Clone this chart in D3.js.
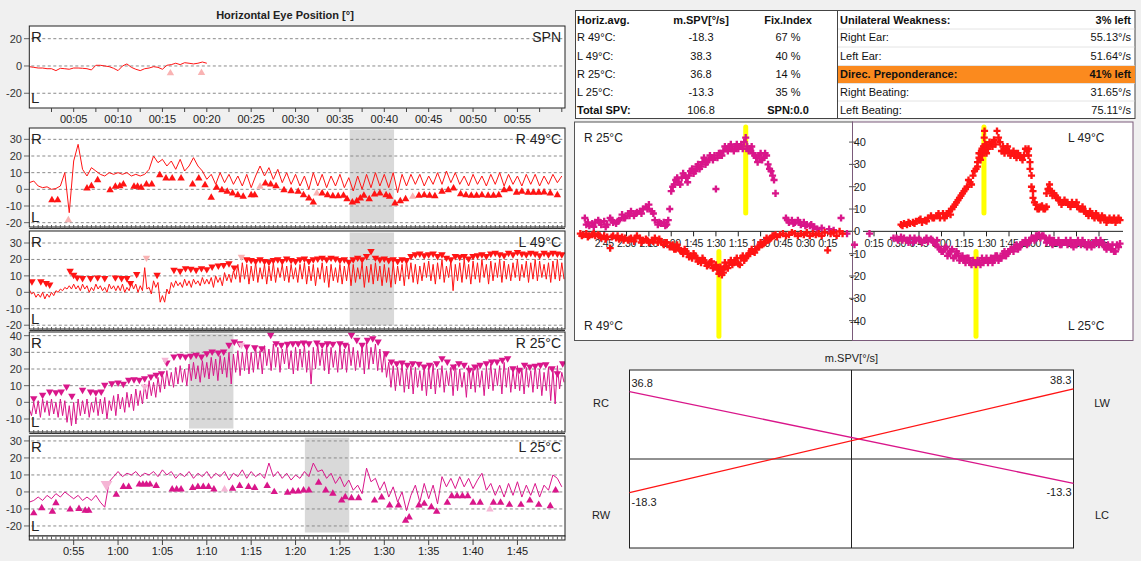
<!DOCTYPE html>
<html><head><meta charset="utf-8">
<script src="https://cdn.jsdelivr.net/npm/d3@7"></script>
<style>
body{margin:0;background:#f0f0f0;}
svg{display:block;font-family:"Liberation Sans",Arial,sans-serif;}
</style></head><body>
<svg id="c" width="1141" height="561"></svg>
<script>
// ---------------- DATA ----------------
// SPN trace (t = 0 .. 20 s, every 0.5 s)
const spnStart = 0, spnStep = 0.5;
const spnTrace = [-0.5,-1,-1.5,-1.5,-2,-2,-3.4,-1.7,-2,-2.4,-1.5,-1.5,-1.7,-2,-2.9,0.5,0.5,0,-0.5,-1.7,-3.4,0,1.5,-1,-2.4,-3.4,-2,-1.5,-0.5,-1,-2.4,0.5,1,2,1,2.4,2,1.5,2,2.9,2];
const spnPale = [[15.9,-5.3],[19.4,-5]];

// R 49°C trace (t = 50 .. 110 s, every 0.5 s)
const r49Start = 50, r49Step = 0.5;
const r49Trace = [4,5,2,1,1.5,0,0.5,2,10,-14,
 17,27,12,8,13,11,9,8,10,9,
 10,9,10,8,9,8,9,12,20,16,
 18,14,17,12,18,11,14,19,14,11,
 6,9,3,10,4,9,3,8,2,9,
 1,8,14,8,13,6,12,4,10,3,
 9,2,8,0,10,2,9,1,8,2,
 9,1,7,-1,8,0,9,1,10,2,
 9,1,10,-2,9,2,9,3,9,2,
 8,3,10,3,11,4,10,3,8,2,
 9,3,8,2,9,3,10,2,9,3,
 8,2,9,3,9,2,8,3,9,4,
 8];
const r49Tri = [[52.55,-6.4],[53.2,-6.4],[56.5,0.6],[57,2],[57.7,5.6],[59.1,-0.4],[59.7,1.6],[60.2,2],[60.6,3],[61.8,1.6],[62.2,1.6],[62.6,1],[63.2,3],[63.8,3],[64.7,8.6],[65.4,6.6],[66.1,6.6],[67.1,6.6],[68.4,3],[69.1,6.6],[69.8,2.6],[70.5,-5],[71.1,1],[71.7,-0.4],[72.3,-1.4],[72.9,-2.4],[73.5,-3.4],[74.1,-4.4],[75,-3.4],[75.4,-3.4],[76.6,3.6],[77.2,3],[77.8,2],[78.7,-0.4],[79.5,-1],[80.3,-1.4],[80.9,-3.4],[81.5,-5.4],[82,-7.8],[83,-2.4],[83.6,-3.4],[84.2,-4],[84.8,-4],[85.4,-3.8],[85.8,-5.8],[86.4,-7.8],[86.9,-7],[87.3,-5.4],[87.7,-3.8],[88.3,-5.8],[88.9,-3],[89.5,-2.4],[90.2,-3.4],[90.6,-4.4],[91.2,-8.4],[91.8,-7],[92.4,-5.8],[93.9,-3.8],[94.5,-3.4],[95.1,-3.8],[95.7,-4],[96.5,-1.4],[97.2,-0.4],[97.8,0.6],[98.6,-2.8],[99.2,-3.4],[99.8,-3.8],[100.4,-3.8],[101,-3.4],[101.7,-3.8],[102.3,-3.8],[102.9,-3.4],[103.5,-0.4],[104.1,0.2],[104.9,-2],[105.5,-1.4],[106.2,-2],[106.8,-2],[107.4,-2],[108,-1.8],[108.7,-2.4],[109.5,-3.4]];
const r49Pale = [[54.4,-18.4],[76,1.6],[82.4,-2.4],[93.2,-4.4]];
const r49Shade = [86.1, 91.1];

// L 49°C trace: peaks and troughs (t = 50 .. 110 s, every 0.5 s)
const l49Start = 50, l49Step = 0.5;
const l49Peaks = [1.6,0,-1,0,-1,0,1,2,3,4,
 5,4,5,4,3,5,4,3,5,4,
 4,5,3,6,5,4,15,3,7,6,
 -2,2,6,7,6,8,7,8,7,9,
 8,9,10,9,12,11,13,17,18,17,
 16,18,15,17,16,18,15,17,16,17,
 15,17,18,16,17,15,18,16,17,15,
 17,16,18,17,15,18,16,17,18,16,
 17,15,18,16,17,19,18,17,16,18,
 19,17,18,20,16,19,17,18,20,17,
 19,18,20,17,19,18,20,19,17,18,
 20,17,19,18,20,19,17,18,19,20,
 18];
const l49Troughs = [-1,-3,-3,-4,-3,-2,0,1,2,2,
 2,1,2,0,1,2,1,0,2,1,
 1,0,1,2,0,1,2,-1,3,-6,
 -6,-1,3,4,3,4,3,5,4,5,
 5,3,6,4,7,6,8,6,8,5,
 7,6,8,5,7,6,9,7,6,8,
 6,8,5,7,4,8,6,3,7,6,
 5,7,4,6,8,3,6,5,7,4,
 6,3,5,7,4,8,6,5,7,9,
 7,5,8,6,9,1,7,6,8,5,
 8,6,9,5,7,9,6,8,7,9,
 7,9,6,8,7,9,8,6,8,7,
 8];
const l49Tri = [[50.3,6.6],[51.3,6.6],[51.9,5.6],[52.3,4.6],[54.6,13],[55,10.6],[55.4,9],[56,8.6],[56.9,8.6],[57.7,9],[58.5,8.6],[59.7,9],[60.4,8.6],[61,8.6],[61.4,5.6],[62.1,11],[64.4,10.6],[66.3,13.6],[67,13],[67.6,14.6],[68.2,14.2],[68.8,13.6],[69.4,14.6],[70,14],[70.6,15.6],[71.3,16.2],[71.9,16.6],[72.5,17.6],[73.1,15],
 [74.5,20],[75,19.5],[75.5,19],[76,20],[76.5,19],[77,18.5],[77.5,19.5],[78,20],[78.5,19],[79,20.5],[79.5,19.5],[80,19],[80.5,20],[81,20.5],[81.5,19],[82,20],[82.5,20.5],[83,21],[83.5,20],[84,21],[84.5,20.5],[85,19.5],[85.5,20],[86,18.5],[86.5,20],[87,21],[87.5,20],[88,22],[88.5,25],[89,21],[89.5,20],[90,20.5],[90.5,19.5],[91,20],[91.5,19],[92,20],[92.5,19.5],[93,22],[93.5,23],[94,23.5],[94.5,22.5],[95,23],[95.5,23.5],[96,22],[96.5,23],[97,21],[97.5,20],[98,22],[98.5,21.5],[99,22],[99.5,20.5],[100,22],[100.5,22.5],[101,23],[101.5,22],[102,23.5],[102.5,24],[103,23],[103.5,22.5],[104,24],[104.5,23],[105,24.5],[105.5,23.5],[106,23],[106.5,24],[107,23.5],[107.5,22.5],[108,24],[108.5,23],[109,24],[109.5,23.5],[110,23]];
const l49Pale = [[63.2,21],[73.9,21.6]];
const l49Shade = [86.1, 91.1];

// R 25°C trace: peaks and troughs (t = 50 .. 110 s, every 0.5 s)
const r25Start = 50, r25Step = 0.5;
const r25Peaks = [-4,0,1,2,1,2,0,2,1,-2,
 0,2,1,2,0,3,2,3,1,4,
 5,3,6,5,8,7,11,13,12,15,
 17,19,18,21,22,20,23,24,22,25,
 24,27,26,28,27,30,29,31,30,32,
 30,33,31,34,32,35,33,32,34,31,
 33,32,34,31,33,35,32,34,33,31,
 34,32,35,33,31,34,36,33,35,32,
 30,24,22,21,23,20,22,21,19,22,
 21,23,20,22,19,21,23,20,18,22,
 20,22,19,21,23,20,22,24,21,19,
 22,20,21,19,22,20,18,21,20,22,
 18];
const r25Troughs = [-8,-7,-9,-6,-8,-7,-9,-8,-12,-14,
 -13,-8,-7,-9,-6,-8,-7,-10,-5,-8,
 -4,-6,-3,-5,-2,-1,2,4,3,6,
 8,10,9,11,12,10,13,14,12,15,
 14,16,13,17,15,11,18,16,19,17,
 18,20,17,22,19,21,18,23,20,17,
 19,21,18,11,20,22,19,17,21,18,
 20,18,22,19,21,17,20,23,19,18,
 15,9,7,10,6,8,5,9,7,4,
 8,5,9,6,10,4,7,9,3,8,
 6,9,4,8,7,10,5,9,6,8,
 7,5,9,6,8,4,7,1,-1,8,
 12];
const r25Tri = [[50.5,2.4],[51.5,4.4],[52.3,6.4],[53,6],[53.6,6.4],[54.2,9.4],[54.8,3.8],[56,7.4],[56.9,6.4],[57.5,6],[58.1,6.4],[58.5,10.4],[59.3,11.4],[60,11.8],[60.6,11],[61.2,13.4],[61.8,13.8],[62.4,13.4],[63,14.4],[63.7,15.4],[64.3,16.4],[64.9,17.4],[65.5,23.8],[66.3,27.4],[67,27.8],[67.6,27.4],[68.2,27.8],[68.8,28.4],[69.4,27.4],[70,29.4],[70.6,30.4],[71.3,29.8],[71.9,30.4],[72.5,34.4],[73.1,36.4],[73.7,35.4],[74.5,33.4],[75.4,33],[76.2,32.4],[77.2,40.4],[77.8,35.4],[78.4,34.4],[79.1,35],[79.7,35.4],[80.3,35.4],[80.9,35.8],[81.5,35.4],[82.4,35.8],[83,34.4],[83.6,35.4],[84.2,35],[85,35.4],[85.6,34.4],[86.3,40.4],[86.9,37.4],[87.5,34.4],[88.1,37.4],[88.7,38.4],[89.3,36.4],[90.2,29.4],[90.8,24.4],[91.4,23.4],[92,23.8],[92.6,22.4],[93.2,23.4],[93.9,23],[94.5,21.4],[95.1,22.4],[95.9,23.4],[96.5,26.4],[97.1,24.4],[97.8,21.4],[98.4,23.4],[99,22.4],[99.6,19.4],[100.2,21.4],[100.8,22.4],[101.5,23.4],[102.1,24.4],[102.7,24.4],[103.3,25.4],[103.9,26.4],[104.5,20.4],[105.2,19.4],[105.8,22.4],[106.4,21.4],[107,21.8],[107.6,22.4],[108.2,22.8],[108.9,20.4],[109.5,17.4],[110.1,23.4]];
const r25Pale = [[65.3,25.4],[73.9,34.4],[63,9.4]];
const r25Shade = [68.0, 73.0];

// L 25°C trace (t = 50 .. 110 s, every 0.5 s)
const l25Start = 50, l25Step = 0.5;
const l25Trace = [-6,-5,-3,-5,-2,-4,-1,-3,0,-2,
 -4,-2,-5,-3,-5,-2,-6,-9,6,9,
 12,9,11,10,12,9,11,10,12,9,
 13,10,12,8,11,9,12,8,11,9,
 12,8,11,9,12,7,11,9,13,8,
 12,9,11,8,17,9,12,8,11,7,
 10,8,12,9,17,12,13,8,11,5,
 9,3,7,1,4,-1,14,6,8,1,
 6,-3,3,-6,0,-11,-2,4,-6,5,
 -4,4,-7,9,3,8,2,9,3,8,
 2,7,11,1,5,-2,4,-3,5,-2,
 6,-3,4,-2,5,-3,4,1,10,8,
 3];
const l25Tri = [[50.5,-12.5],[51.4,-9.5],[52.6,-11.5],[53,-6.5],[54.6,-10.3],[55.6,-9.9],[56.3,-10.9],[56.7,-10.9],[59.8,-1.6],[60.6,3],[61.2,3],[62.4,4.4],[62.8,4.4],[63.2,4.4],[63.6,4.4],[64.3,3.6],[66.1,1.6],[66.6,1.6],[67.1,1.6],[68.4,2.4],[69,3],[69.6,3],[70.2,3],[70.8,1.6],[72.9,2],[73.7,3.6],[74.7,3],[75.4,2.4],[76.8,3.6],[77.6,0],[79.1,-0.4],[79.7,0.4],[80.3,0.4],[80.9,1],[81.5,1],[82.6,5.5],[83.4,1],[84.2,-1],[85.2,-5],[85.6,-3],[86.3,-3.6],[87.1,-3.6],[88.9,-5],[89.7,-3.2],[90.6,-7.9],[91.6,-7.9],[92.4,-16.8],[92.8,-14.9],[93.9,-7.9],[94.5,-6.9],[95.3,-8.9],[95.9,-11.5],[97.1,-6.3],[97.6,-2.4],[98.2,-2.4],[98.8,-2.4],[99.4,-2.4],[100,-6.3],[100.8,-6.3],[102.3,-6.3],[103.1,-6.3],[104.1,-7.5],[105.4,-7.5],[106.4,-5],[107.4,-7.5],[108.7,-8.3],[109.3,1]];
const l25Pale = [[72,1.6],[101.9,-10.3]];
const l25PaleDown = [[58.7,4.5]];
const l25Shade = [81.05, 86.05];

// Scatter plots: slow-phase velocity [t (s), v (°/s)]
const scR25 = [[178,6],[177,3],[175,2.5],[173,3.5],[171,4],[169,5],[167,3],[165,4.5],[163,3],[161,6],[159,4],[157,3.5],[155,5],[153,7.5],[151,6],[149,8],[147,9],[145,7],[143,8.5],[141,9],[139,10],[137,11],[135,12],[133,9],[131,5],[129,3],[127,3.5],[125,4],[123,3],[121,10],[120,18],[119,20],[117,23],[115,22],[113,24],[111,25],[109,22],[107,27],[105,26],[103,29],[101,28],[99,31],[97,30],[95,32],[93,33],[91,34],[90,19],[89,33],[87,35],[85,36],[83,37],[81,38],[79,37],[77,38],[75,37],[73,39],[71,40],[70,42],[69,38],[67,37],[65,35],[63,33],[61,34],[59,32],[57,35],[55,30],[53,27],[51,23],[50,17],[43,6],[41,4],[39,5],[37,4],[35,5],[33,3],[31,4],[29,3],[27,2.5],[25,2],[22,1],[19,1.5],[14,1],[11,0.5],[6,6],[2,-1],
 [176,4],[172,2],[168,4],[164,2],[160,5],[156,4.5],[152,6],[148,7],[144,8],[140,8],[136,10],[132,8],[128,4],[124,2.5],[122,5],[118,21],[116,24],[114,21],[112,26],[110,24],[108,25],[106,28],[104,27],[102,30],[100,29],[98,33],[96,31],[94,34],[92,32],[88,35],[86,34],[84,38],[82,36],[80,39],[78,36],[76,39],[74,38],[72,37],[68,36],[66,38],[64,34],[62,31],[60,35],[58,33],[56,34],[54,28],[52,25],[42,5],[38,3.5],[34,4],[30,2.5],[26,3],[24,2]];
const scR49 = [[181,-1],[179,-1.5],[177,-1],[175,-2],[173,-1.5],[171,-2],[169,-1.5],[167,-3],[165,-2],[163,-2.5],[161,-7.5],[159,-2],[157,-3],[155,-3.5],[153,-2.5],[151,-3],[149,-4],[147,-3],[145,-4.5],[143,-2],[141,-3],[139,-4],[137,-3.5],[135,-5],[133,-4],[131,-3],[129,-5],[127,-4.5],[125,-6],[123,-5],[121,-7],[119,-6],[117,-8],[115,-7.5],[113,-9],[111,-8],[109,-10],[107,-11],[105,-10],[103,-12],[101,-13],[99,-12],[97,-14],[95,-15],[93,-13.5],[91,-16],[89,-17],[88,-19],[87,-18],[86,-19.5],[85,-17],[84,-16],[83,-15.5],[81,-14],[79,-15],[77,-13],[75,-14.5],[73,-12],[71,-13],[69,-11],[67,-10],[65,-9],[63,-8],[61,-7],[59,-6],[57,-5],[55,-4],[53,-3],[51,-2],[49,-2.5],[47,-1.5],[45,-1],[43,-2],[41,-1.5],[39,-0.5],[37,-1],[35,-2],[33,-1],[31,-1.5],[29,-0.5],[27,-2],[25,-1],[23,-1.5],[21,-1],[19,-2],[17,-0.5],[15,-8.5],[13,-1],[11,-0.5],[9,-2],[7,0],[5,-1],
 [180,-2],[176,-2.5],[172,-1],[168,-2],[164,-3.5],[160,-2.5],[156,-2],[152,-4],[148,-3.5],[144,-3],[140,-5],[136,-4],[132,-4.5],[128,-3.5],[124,-5],[120,-6.5],[118,-8],[116,-6],[114,-8.5],[112,-10],[110,-9],[108,-11.5],[106,-12],[104,-11],[102,-13.5],[100,-14],[98,-13],[96,-15.5],[94,-14],[92,-16.5],[90,-15],[88,-17],[87,-16],[86,-17],[85,-18.5],[84,-14],[82,-16.5],[80,-13],[78,-14],[76,-12],[74,-15],[72,-11],[70,-12],[68,-10],[66,-8],[64,-9.5],[62,-7],[60,-5],[58,-5.5],[56,-3],[54,-3.5],[52,-2],[50,-1.5]];
const scL49 = [[33,3],[35,3.5],[37,3],[39,3.5],[41,4],[43,4.5],[45,5],[47,4],[49,5],[51,6],[53,7],[55,6],[57,7],[59,6],[61,8],[63,7],[65,9],[67,10],[69,12],[71,14],[73,16],[75,18],[77,20],[79,22],[81,25],[83,28],[84,31],[85,33],[86,35],[87,37],[88,38],[88.5,42],[88.7,45],[89,36],[90,38],[91,37],[93,39],[95,41],[97,45],[99,40],[101,38],[103,37],[105,36],[107,35],[109,34],[111,35],[113,33],[115,34],[117,36],[118,37],[119,31],[120,25],[121,18],[122,13],[124,10],[126,11],[128,10],[130,11],[131,19],[132,21],[133,18],[135,17],[137,15],[139,14],[141,13],[143,13],[145,12],[147,13],[149,12],[151,11],[153,10],[155,9],[157,8],[159,9],[161,7],[163,8],[165,6],[167,7],[169,6],[171,5],[173,5],[175,6],[177,5],[179,5],
 [34,2.5],[38,4],[42,3.5],[46,5.5],[50,4.5],[54,6],[58,8],[62,6],[64,8],[66,7.5],[68,11],[70,13],[72,15],[74,17],[76,19],[78,23],[80,21],[82,27],[84,29],[85,35],[86,32],[87,34],[88,36],[89,39],[90,35],[92,40],[94,38],[96,39],[98,42],[100,36],[102,35],[104,38],[106,34],[108,36],[110,33],[112,34],[114,32],[116,37],[118,34],[119,28],[120,20],[121,15],[123,12],[125,10],[127,11.5],[129,10],[130,17],[132,19],[134,16],[136,16],[138,14],[140,12],[142,14],[144,13],[146,11],[148,12],[150,13],[152,10],[154,11],[156,9],[158,7],[160,8],[162,6],[164,7],[166,5],[168,6],[170,4],[172,6],[174,5],[176,4],[178,6]];
const scL25 = [[2,-6],[12,-1],[28,-3],[31,-4],[33,-2.5],[35,-3],[37,-4],[39,-3],[41,-5],[43,-4],[45,-3.5],[47,-5],[49,-4],[51,-4.5],[53,-3.5],[55,-5],[57,-4],[59,-8],[61,-9],[63,-7],[65,-10],[67,-8],[69,-11],[71,-10],[73,-12],[75,-13],[77,-12],[79,-14],[81,-13],[83,-15],[85,-14],[87,-12],[89,-13],[91,-14],[93,-12],[95,-13],[97,-11],[99,-12],[101,-10],[103,-11],[105,-9],[107,-8],[109,-7],[111,-8],[113,-6],[115,-5],[117,-6],[119,-4],[121,-3],[123,-2],[125,-1.5],[127,-2],[129,-3],[131,-4],[133,-5],[135,-4],[137,-5],[139,-6],[141,-5],[143,-4],[145,-5],[147,-6],[149,-5],[151,-4],[153,-6],[155,-5],[157,-7],[159,-6],[161,-5],[163,-4],[165,-6],[167,-5],[169,-7],[171,-6],[173,-8],[175,-9],[177,-6],[179,-5.5],
 [30,-3],[34,-4],[38,-5],[42,-3],[46,-4],[50,-3],[54,-4],[56,-6],[58,-7],[60,-9],[62,-8],[64,-11],[66,-9],[68,-12],[70,-9],[72,-13],[74,-11],[76,-14],[78,-12],[80,-15],[82,-14],[84,-13],[86,-15],[88,-14],[90,-12],[92,-13],[94,-14],[96,-11],[98,-13],[100,-12],[102,-9],[104,-10],[106,-8],[108,-9],[110,-6],[112,-7],[114,-5],[116,-4],[118,-5],[120,-3],[122,-4],[124,-2],[126,-3],[128,-2],[130,-5],[132,-3],[134,-6],[136,-5],[138,-4],[140,-6],[142,-5],[144,-6],[146,-4],[148,-7],[150,-6],[152,-5],[154,-4],[156,-6],[158,-5],[160,-7],[162,-6],[164,-5],[166,-4],[168,-6],[170,-8],[172,-7],[174,-6],[176,-9],[178,-7]];
const culmination = {R25:70, R49:88, L49:88.3, L25:83};
const scatterTicks = [15,30,45,60,75,90,105,120,135,150,165];
const scatterYTicks = [40,30,20,10,0,-10,-20,-30,-40];

// Table
const tableHead = ["Horiz.avg.","m.SPV[°/s]","Fix.Index"];
const tableNames = ["R 49°C:","L 49°C:","R 25°C:","L 25°C:"];
const tableSpv = [-18.3, 38.3, 36.8, -13.3];
const tableFix = [67, 40, 14, 35];
const totalSpv = 106.8;
const spnValue = 0.0;
const resultLabels = ["Unilateral Weakness:","Right Ear:","Left Ear:","Direc. Preponderance:","Right Beating:","Left Beating:"];
const resultValues = ["3% left","55.13°/s","51.64°/s","41% left","31.65°/s","75.11°/s"];

// Butterfly chart
const bfLeft = {RC:36.8, RW:-18.3};
const bfRight = {LW:38.3, LC:-13.3};

// ---------------- DRAW ----------------
const svg = d3.select("#c");
const RED = "#ff1414", MAG = "#d9168a", PALE_RED = "#f9b3b3", PALE_MAG = "#f5b5d5";
const X0 = 29.3, X1 = 565;
const xMain = d3.scaleLinear().domain([50, 110.36]).range([X0, X1]);
const xSpn = d3.scaleLinear().domain([0, 60.36]).range([X0, X1]);
const pad = n => (n < 10 ? "0" : "") + n;

svg.append("text").attr("x", 285).attr("y", 19).attr("text-anchor","middle")
  .attr("font-size", 11).attr("font-weight","bold").attr("fill","#222").text("Horizontal Eye Position [°]");

const tri = d3.symbol().type(d3.symbolTriangle).size(24);

function seriesFromPairs(start, step, peaks, troughs){
  const pts = [];
  peaks.forEach((p,i)=>{ pts.push([start + i*step, p]); pts.push([start + i*step + step/2, troughs[i]]); });
  return pts;
}
function seriesFromValues(start, step, vals){ return vals.map((v,i)=>[start + i*step, v]); }

function panel(cfg){
  const {id, y0, y1, dom, ticks, name, x, pts, color, up, down, pale, paleDown, paleColor, shade} = cfg;
  const y = d3.scaleLinear().domain(dom).range([y1, y0]);
  const g = svg.append("g");
  g.append("clipPath").attr("id","clip"+id).append("rect").attr("x",X0).attr("y",y0).attr("width",X1-X0).attr("height",y1-y0);
  g.append("rect").attr("x",X0).attr("y",y0).attr("width",X1-X0).attr("height",y1-y0).attr("fill","#fff");
  if (shade) g.append("rect").attr("x",x(shade[0])).attr("y",y0+1.5).attr("width",x(shade[1])-x(shade[0])).attr("height",y1-y0-5).attr("fill","#d9d9d9");
  ticks.forEach(t=>{
    g.append("line").attr("x1",X0+2).attr("x2",X1-2).attr("y1",y(t)).attr("y2",y(t))
      .attr("stroke","#8a8a8a").attr("stroke-dasharray","3,2.5").attr("stroke-width",1);
    g.append("line").attr("x1",24).attr("x2",X0).attr("y1",y(t)).attr("y2",y(t)).attr("stroke","#666");
    g.append("text").attr("x",22).attr("y",y(t)+4).attr("text-anchor","end").attr("font-size",11).attr("fill","#333").text(t);
  });
  const cg = g.append("g").attr("clip-path","url(#clip"+id+")");
  cg.append("path").datum(pts).attr("fill","none").attr("stroke",color).attr("stroke-width",1)
    .attr("d", d3.line().x(d=>x(d[0])).y(d=>y(d[1])));
  const drawTri = (arr, col, dir, size) => cg.selectAll(null).data(arr).enter().append("path")
      .attr("d", d3.symbol().type(d3.symbolTriangle).size(size||24))
      .attr("transform", d=>`translate(${x(d[0])},${y(d[1])})` + (dir<0?" rotate(180)":""))
      .attr("fill", col);
  if (pale) drawTri(pale, paleColor, 1);
  if (paleDown) drawTri(paleDown, paleColor, -1, 60);
  if (up) drawTri(up, color, 1);
  if (down) drawTri(down, color, -1);
  g.append("rect").attr("x",X0).attr("y",y0).attr("width",X1-X0).attr("height",y1-y0).attr("fill","none").attr("stroke","#222");
  g.append("text").attr("x",31).attr("y",y0+16).attr("font-size",15).attr("fill","#222").text("R");
  g.append("text").attr("x",31).attr("y",y1-5).attr("font-size",15).attr("fill","#222").text("L");
  g.append("text").attr("x",561).attr("y",y0+16).attr("text-anchor","end").attr("font-size",14).attr("fill","#222").text(name);
  return {g, y};
}

// SPN panel
panel({id:"spn", y0:26, y1:108, dom:[-30.8,29.3], ticks:[20,0,-20], name:"SPN", x:xSpn,
  pts: seriesFromValues(spnStart, spnStep, spnTrace), color:RED, pale:spnPale, paleColor:PALE_RED});
d3.range(2.5, 60.1, 2.5).forEach(t=>{
  svg.append("line").attr("x1",xSpn(t)).attr("x2",xSpn(t)).attr("y1",108).attr("y2",112).attr("stroke","#444");
});
d3.range(5, 56, 5).forEach(t=>{
  svg.append("text").attr("x",xSpn(t)).attr("y",123).attr("text-anchor","middle").attr("font-size",11).attr("fill","#222").text("00:"+pad(t));
});

function bottomTicks(yb){
  svg.append("line").attr("x1",X0).attr("x2",X1).attr("y1",yb+1.5).attr("y2",yb+1.5).attr("stroke","#333");
  d3.range(50.5, 110.3, 0.5).forEach(t=>{
    svg.append("line").attr("x1",xMain(t)).attr("x2",xMain(t)).attr("y1",yb-2).attr("y2",yb+1.5).attr("stroke","#555");
  });
}

panel({id:"r49", y0:128, y1:227, dom:[-22.6,36.8], ticks:[30,20,10,0,-10,-20], name:"R 49°C", x:xMain,
  pts: seriesFromValues(r49Start, r49Step, r49Trace), color:RED, up:r49Tri, pale:r49Pale, paleColor:PALE_RED, shade:r49Shade});
bottomTicks(227);
panel({id:"l49", y0:231, y1:329, dom:[-22.3,37.3], ticks:[30,20,10,0,-10,-20], name:"L 49°C", x:xMain,
  pts: seriesFromPairs(l49Start, l49Step, l49Peaks, l49Troughs), color:RED, down:l49Tri, paleColor:PALE_RED, shade:l49Shade});
{
  const y = d3.scaleLinear().domain([-22.3,37.3]).range([329,231]);
  svg.selectAll(null).data(l49Pale).enter().append("path").attr("d",tri)
    .attr("transform", d=>`translate(${xMain(d[0])},${y(d[1])}) rotate(180)`).attr("fill",PALE_RED);
}
bottomTicks(329);
panel({id:"r25", y0:332, y1:432, dom:[-17.8,42.2], ticks:[40,30,20,10,0,-10], name:"R 25°C", x:xMain,
  pts: seriesFromPairs(r25Start, r25Step, r25Peaks, r25Troughs), color:MAG, down:r25Tri, paleColor:PALE_MAG, shade:r25Shade});
{
  const y = d3.scaleLinear().domain([-17.8,42.2]).range([432,332]);
  svg.selectAll(null).data(r25Pale).enter().append("path").attr("d",tri)
    .attr("transform", d=>`translate(${xMain(d[0])},${y(d[1])}) rotate(180)`).attr("fill",PALE_MAG);
}
bottomTicks(432);
panel({id:"l25", y0:436, y1:536, dom:[-25.9,32.9], ticks:[30,20,10,0,-10,-20], name:"L 25°C", x:xMain,
  pts: seriesFromValues(l25Start, l25Step, l25Trace), color:MAG, up:l25Tri, pale:l25Pale, paleDown:l25PaleDown, paleColor:PALE_MAG, shade:l25Shade});
svg.append("rect").attr("x",X0).attr("y",536).attr("width",X1-X0).attr("height",4).attr("fill","#fff").attr("stroke","#222");
d3.range(50.5, 110.3, 0.5).forEach(t=>{
  svg.append("line").attr("x1",xMain(t)).attr("x2",xMain(t)).attr("y1",536.5).attr("y2",539.5).attr("stroke","#555");
});
d3.range(55, 110, 5).forEach(t=>{
  svg.append("line").attr("x1",xMain(t)).attr("x2",xMain(t)).attr("y1",540).attr("y2",545).attr("stroke","#444");
  svg.append("text").attr("x",xMain(t)).attr("y",555).attr("text-anchor","middle").attr("font-size",11).attr("fill","#222")
    .text(Math.floor(t/60)+":"+pad(t%60));
});

// ---------- Table ----------
const tg = svg.append("g").attr("font-size",11).attr("fill","#111");
tg.append("rect").attr("x",575.5).attr("y",10.5).attr("width",559.5).attr("height",108).attr("fill","#fff").attr("stroke","#444");
tg.append("rect").attr("x",838).attr("y",65.5).attr("width",297).attr("height",18).attr("fill","#fb8a1e");
[29,47,65.5,83.5,101].forEach(yy=>tg.append("line").attr("x1",838).attr("x2",1134.5).attr("y1",yy).attr("y2",yy).attr("stroke","#e4e4e4"));
tg.append("line").attr("x1",837.5).attr("x2",837.5).attr("y1",10.5).attr("y2",118.5).attr("stroke","#444");
const rowY = [24, 41, 60, 78, 96, 114];
tg.append("text").attr("x",577).attr("y",rowY[0]).attr("font-weight","bold").text(tableHead[0]);
tg.append("text").attr("x",701).attr("y",rowY[0]).attr("font-weight","bold").attr("text-anchor","middle").text(tableHead[1]);
tg.append("text").attr("x",788).attr("y",rowY[0]).attr("font-weight","bold").attr("text-anchor","middle").text(tableHead[2]);
tableNames.forEach((n,i)=>{
  tg.append("text").attr("x",577).attr("y",rowY[i+1]).text(n);
  tg.append("text").attr("x",701).attr("y",rowY[i+1]).attr("text-anchor","middle").text(tableSpv[i].toFixed(1));
  tg.append("text").attr("x",788).attr("y",rowY[i+1]).attr("text-anchor","middle").text(tableFix[i]+" %");
});
tg.append("text").attr("x",577).attr("y",rowY[5]).attr("font-weight","bold").text("Total SPV:");
tg.append("text").attr("x",701).attr("y",rowY[5]).attr("text-anchor","middle").text(totalSpv.toFixed(1));
tg.append("text").attr("x",788).attr("y",rowY[5]).attr("text-anchor","middle").attr("font-weight","bold").text("SPN:"+spnValue.toFixed(1));
resultLabels.forEach((l,i)=>{
  const bold = (i===0 || i===3);
  tg.append("text").attr("x",840).attr("y",rowY[i]).attr("font-weight",bold?"bold":"normal").text(l);
  tg.append("text").attr("x",1131).attr("y",rowY[i]).attr("text-anchor","end").attr("font-weight",bold?"bold":"normal").text(resultValues[i]);
});

// ---------- Scatter plots ----------
const sg = svg.append("g");
const yS = d3.scaleLinear().domain([-49,49]).range([340.7,122]);
const xL = d3.scaleLinear().domain([0,185]).range([850,574.4]);
const xR = d3.scaleLinear().domain([0,187]).range([851.5,1132]);
sg.append("rect").attr("x",574.5).attr("y",122).attr("width",278).attr("height",218.5).attr("fill","#fff").attr("stroke","#555");
sg.append("rect").attr("x",852.5).attr("y",122).attr("width",280.5).attr("height",218.5).attr("fill","#fff").attr("stroke","#7a5a7a");
sg.append("line").attr("x1",xL(180)).attr("x2",852).attr("y1",yS(0)).attr("y2",yS(0)).attr("stroke","#222");
sg.append("line").attr("x1",863).attr("x2",xR(181)).attr("y1",yS(0)).attr("y2",yS(0)).attr("stroke","#222");
const fmt = t => Math.floor(t/60)+":"+pad(t%60);
scatterTicks.forEach(t=>{
  [xL, xR].forEach(sc=>{
    sg.append("line").attr("x1",sc(t)).attr("x2",sc(t)).attr("y1",yS(0)).attr("y2",yS(0)+5).attr("stroke","#222");
    sg.append("text").attr("x",sc(t)).attr("y",yS(0)+16).attr("text-anchor","middle").attr("font-size",10.5)
      .attr("letter-spacing","-0.4").attr("fill","#222").text(fmt(t));
  });
});
scatterYTicks.forEach(v=>{
  sg.append("line").attr("x1",849).attr("x2",856).attr("y1",yS(v)).attr("y2",yS(v)).attr("stroke","#555");
  if (v !== 0) sg.append("text").attr("x",866).attr("y",yS(v)+4).attr("text-anchor","end").attr("font-size",11).attr("fill","#222").text(v);
});
sg.append("text").attr("x",854).attr("y",yS(0)+4).attr("font-size",11).attr("fill","#222").text("0");
[[xL(culmination.R25),46.8,8.2],[xL(culmination.R49),-9,-47],[xR(culmination.L49),46.8,8.2],[xR(culmination.L25),-9,-47]].forEach(([xx,a,b])=>{
  sg.append("line").attr("x1",xx).attr("x2",xx).attr("y1",yS(a)).attr("y2",yS(b)).attr("stroke","#ffff00").attr("stroke-width",5).attr("stroke-linecap","round");
});
const cross = d3.symbol().type(d3.symbolCross).size(28);
function dots(arr, sx, col){
  sg.selectAll(null).data(arr).enter().append("path").attr("d",cross)
    .attr("transform", d=>`translate(${sx(d[0])},${yS(d[1])})`).attr("fill",col);
}
dots(scR25, xL, MAG); dots(scR49, xL, RED); dots(scL49, xR, RED); dots(scL25, xR, MAG);
sg.append("text").attr("x",584).attr("y",142).attr("font-size",12).attr("fill","#222").text("R 25°C");
sg.append("text").attr("x",584).attr("y",330).attr("font-size",12).attr("fill","#222").text("R 49°C");
sg.append("text").attr("x",1068).attr("y",142).attr("font-size",12).attr("fill","#222").text("L 49°C");
sg.append("text").attr("x",1068).attr("y",330).attr("font-size",12).attr("fill","#222").text("L 25°C");

// ---------- Butterfly (m.SPV) ----------
const bg = svg.append("g");
const bx0 = 629.5, bx1 = 1073.5, by0 = 370, by1 = 548;
const yB = d3.scaleLinear().domain([-48.6,48.6]).range([by1,by0]);
const bxm = (bx0+bx1)/2;
bg.append("text").attr("x",bxm).attr("y",362).attr("text-anchor","middle").attr("font-size",11).attr("fill","#222").text("m.SPV[°/s]");
bg.append("rect").attr("x",bx0).attr("y",by0).attr("width",bx1-bx0).attr("height",by1-by0).attr("fill","#fff").attr("stroke","#222");
bg.append("line").attr("x1",bxm).attr("x2",bxm).attr("y1",by0).attr("y2",by1).attr("stroke","#222");
bg.append("line").attr("x1",bx0).attr("x2",bx1).attr("y1",yB(0)).attr("y2",yB(0)).attr("stroke","#222");
bg.append("line").attr("x1",bx0).attr("x2",bx1).attr("y1",yB(bfLeft.RC)).attr("y2",yB(bfRight.LC)).attr("stroke",MAG).attr("stroke-width",1.3);
bg.append("line").attr("x1",bx0).attr("x2",bx1).attr("y1",yB(bfLeft.RW)).attr("y2",yB(bfRight.LW)).attr("stroke",RED).attr("stroke-width",1.3);
bg.append("text").attr("x",bx0+2).attr("y",yB(bfLeft.RC)-5).attr("font-size",11).attr("fill","#222").text(bfLeft.RC.toFixed(1));
bg.append("text").attr("x",bx0+2).attr("y",yB(bfLeft.RW)+13).attr("font-size",11).attr("fill","#222").text(bfLeft.RW.toFixed(1));
bg.append("text").attr("x",bx1-2).attr("y",yB(bfRight.LW)-5).attr("text-anchor","end").attr("font-size",11).attr("fill","#222").text(bfRight.LW.toFixed(1));
bg.append("text").attr("x",bx1-2).attr("y",yB(bfRight.LC)+13).attr("text-anchor","end").attr("font-size",11).attr("fill","#222").text(bfRight.LC.toFixed(1));
[["RC",601,407],["RW",601,519],["LW",1102,407],["LC",1102,519]].forEach(([t,xx,yy])=>{
  bg.append("text").attr("x",xx).attr("y",yy).attr("text-anchor","middle").attr("font-size",11).attr("fill","#222").text(t);
});
</script>
</body></html>
